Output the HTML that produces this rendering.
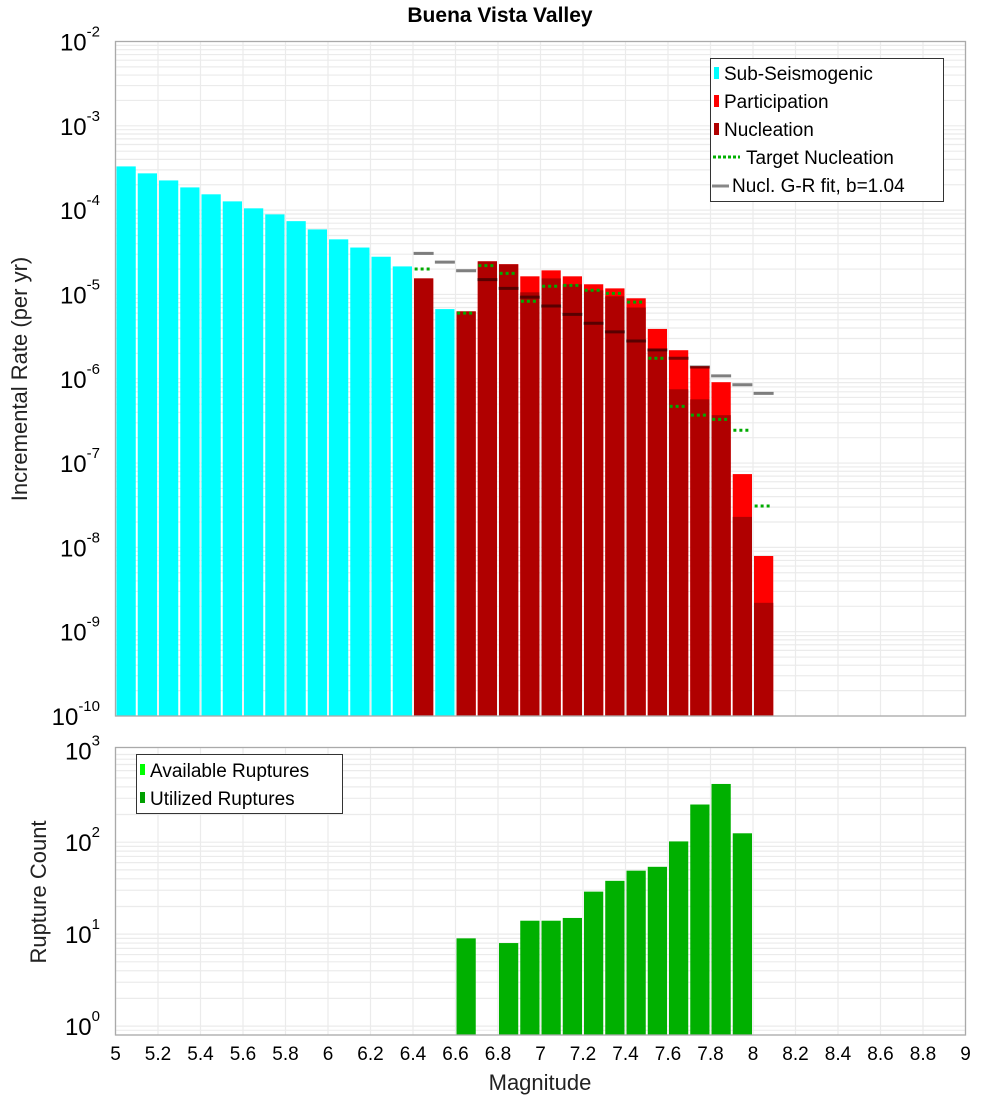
<!DOCTYPE html>
<html><head><meta charset="utf-8"><style>
body{margin:0;background:#fff;}
svg{display:block;font-family:"Liberation Sans","DejaVu Sans",sans-serif;}
</style></head><body>
<svg id="chart" width="1000" height="1100" viewBox="0 0 1000 1100" xmlns="http://www.w3.org/2000/svg">
<text x="500" y="22" text-anchor="middle" font-size="21" font-weight="bold">Buena Vista Valley</text>
<g id="top"></g><g id="bot"></g>
<text transform="translate(27,379) rotate(-90)" text-anchor="middle" font-size="22" fill="#222">Incremental Rate (per yr)</text>
<text transform="translate(46,892) rotate(-90)" text-anchor="middle" font-size="22" fill="#222">Rupture Count</text>
<text x="540" y="1090" text-anchor="middle" font-size="22" fill="#222">Magnitude</text>
<g>
<rect x="710.5" y="58.5" width="233" height="143" fill="#fff" stroke="#333"/>
<rect x="714" y="67" width="5" height="12" fill="#0ff"/><text x="724" y="80" font-size="19">Sub-Seismogenic</text>
<rect x="714" y="95" width="5" height="12" fill="#f00"/><text x="724" y="108" font-size="19">Participation</text>
<rect x="714" y="123" width="5" height="12" fill="#b00000"/><text x="724" y="136" font-size="19">Nucleation</text>
<line x1="713" y1="157" x2="740" y2="157" stroke="#00b000" stroke-width="3" stroke-dasharray="3,2"/><text x="746" y="164" font-size="19">Target Nucleation</text>
<line x1="712" y1="186" x2="729" y2="186" stroke="#888" stroke-width="3"/><text x="732" y="192" font-size="19">Nucl. G-R fit, b=1.04</text>
</g>
<g>
<rect x="136.5" y="754.5" width="206" height="59" fill="#fff" stroke="#333"/>
<rect x="140" y="764" width="5" height="11" fill="#0f0"/><text x="150" y="777" font-size="19">Available Ruptures</text>
<rect x="140" y="792" width="5" height="11" fill="#00a000"/><text x="150" y="805" font-size="19">Utilized Ruptures</text>
</g>
</svg>
<script>
const mags=[5.05,5.15,5.25,5.35,5.45,5.55,5.65,5.75,5.85,5.95,6.05,6.15,6.25,6.35,6.45,6.55,6.65,6.75,6.85,6.95,7.05,7.15,7.25,7.35,7.45,7.55,7.65,7.75,7.85,7.95,8.05];
const subSeis=[3.3e-4,2.73e-4,2.25e-4,1.86e-4,1.54e-4,1.27e-4,1.05e-4,8.9e-5,7.4e-5,5.9e-5,4.5e-5,3.6e-5,2.8e-5,2.15e-5,0,6.7e-6,0,0,0,0,0,0,0,0,0,0,0,0,0,0,0];
const partic=[0,0,0,0,0,0,0,0,0,0,0,0,0,0,1.55e-5,0,6.3e-6,2.47e-5,2.28e-5,1.64e-5,1.93e-5,1.64e-5,1.32e-5,1.18e-5,9.0e-6,3.9e-6,2.18e-6,1.41e-6,9.1e-7,7.4e-8,7.9e-9];
const nucl=[0,0,0,0,0,0,0,0,0,0,0,0,0,0,1.55e-5,0,6.3e-6,2.47e-5,2.28e-5,1.06e-5,1.55e-5,1.32e-5,1.12e-5,9.5e-6,7.0e-6,2.24e-6,7.5e-7,5.7e-7,3.7e-7,2.3e-8,2.2e-9];
const targetNucl=[0,0,0,0,0,0,0,0,0,0,0,0,0,0,2.0e-5,0,6.0e-6,2.2e-5,1.78e-5,8.3e-6,1.25e-5,1.28e-5,1.12e-5,1.03e-5,8.1e-6,1.75e-6,4.7e-7,3.7e-7,3.3e-7,2.45e-7,3.1e-8];
const grFit=[0,0,0,0,0,0,0,0,0,0,0,0,0,0,3.07e-5,2.42e-5,1.91e-5,1.5e-5,1.18e-5,9.3e-6,7.3e-6,5.8e-6,4.55e-6,3.6e-6,2.8e-6,2.2e-6,1.75e-6,1.38e-6,1.08e-6,8.5e-7,6.7e-7];
const utilized=[0,0,0,0,0,0,0,0,0,0,0,0,0,0,0,0,9,0,8,14,14,15,29,38,49,54,102,257,430,125,0];
const xTicks=[5,5.2,5.4,5.6,5.8,6,6.2,6.4,6.6,6.8,7,7.2,7.4,7.6,7.8,8,8.2,8.4,8.6,8.8,9];
const topExps=[-2,-3,-4,-5,-6,-7,-8,-9,-10];
const botExps=[3,2,1,0];

const NS='http://www.w3.org/2000/svg';
const L=115.5,R=965.5;
const xS=m=>L+(m-5)/4*(R-L);
const T={top:41.5,bot:716,lmin:-10,lmax:-2};
const B={top:747.5,bot:1035,lmin:Math.log10(0.8),lmax:3.03};
const yT=v=>T.bot-(Math.log10(v)-T.lmin)/(T.lmax-T.lmin)*(T.bot-T.top);
const yB=v=>B.bot-(Math.log10(v)-B.lmin)/(B.lmax-B.lmin)*(B.bot-B.top);
function mk(p,tag,a){const e=document.createElementNS(NS,tag);for(const k in a)e.setAttribute(k,a[k]);p.appendChild(e);return e;}
const gT=document.getElementById('top'),gB=document.getElementById('bot');
const bw=(xS(0.1)-xS(0))-2;

function grid(g,P,yf,emin,emax){
  for(let e=Math.floor(emin);e<emax;e++)for(let k=1;k<10;k++){const v=k*Math.pow(10,e);const y=yf(v);if(y<P.top||y>P.bot)continue;
    const ln=mk(g,'line',{x1:L,x2:R,y1:y,y2:y,stroke:'#ebebeb','stroke-width':1.2});
    
    }
  xTicks.forEach(t=>{const ln=mk(g,'line',{x1:xS(t),x2:xS(t),y1:P.top,y2:P.bot,stroke:'#ebebeb','stroke-width':1.2});
    
    });
}
grid(gT,T,yT,-10,-2);
grid(gB,B,yB,-1,3);

function ylab(g,e,y,nm){const t=mk(g,'text',{x:100,y:y+9,'text-anchor':'end','font-size':24});
  
  
  t.textContent='10';const s=mk(t,'tspan',{dy:-14,'font-size':15});s.textContent=String(e);}
topExps.forEach(e=>ylab(gT,e,yT(Math.pow(10,e)),'top-y-tick-label'));
botExps.forEach(e=>ylab(gB,e,yB(Math.pow(10,e)),'bottom-y-tick-label'));

function bar(g,m,v,yf,P,fill,nm){if(!(v>0))return;const y=yf(v);
  const r=mk(g,'rect',{x:xS(m)-bw/2,y:y,width:bw,height:P.bot-y,fill:fill});
  
  }
mags.forEach((m,i)=>{bar(gT,m,subSeis[i],yT,T,'#00ffff','sub-seismogenic-bar');});
mags.forEach((m,i)=>{bar(gT,m,partic[i],yT,T,'#ff0000','participation-bar');});
mags.forEach((m,i)=>{bar(gT,m,nucl[i],yT,T,'#b00000','nucleation-bar');});
mags.forEach((m,i)=>{if(grFit[i]>0){const y=yT(grFit[i]);
  const ln=mk(gT,'line',{x1:xS(m)-10,x2:xS(m)+10,y1:y,y2:y,stroke:'rgba(0,0,0,0.5)','stroke-width':3});
  
  }});
mags.forEach((m,i)=>{if(targetNucl[i]>0){const y=yT(targetNucl[i]);
  const ln=mk(gT,'line',{x1:xS(m)-9,x2:xS(m)+9,y1:y,y2:y,stroke:'#00aa00','stroke-width':3,'stroke-dasharray':'3,3'});
  
  }});
mags.forEach((m,i)=>{bar(gB,m,utilized[i],yB,B,'#00b000','utilized-ruptures-bar');});

[[gT,T],[gB,B]].forEach(([g,P])=>{const r=mk(g,'rect',{x:L,y:P.top,width:R-L,height:P.bot-P.top,fill:'none',stroke:'#aaa','stroke-width':1.3});
  
  });
xTicks.forEach(t=>{const tx=mk(gB,'text',{x:xS(t),y:1060,'text-anchor':'middle','font-size':19});
  
  
  tx.textContent=String(t);});
</script>
</body></html>
